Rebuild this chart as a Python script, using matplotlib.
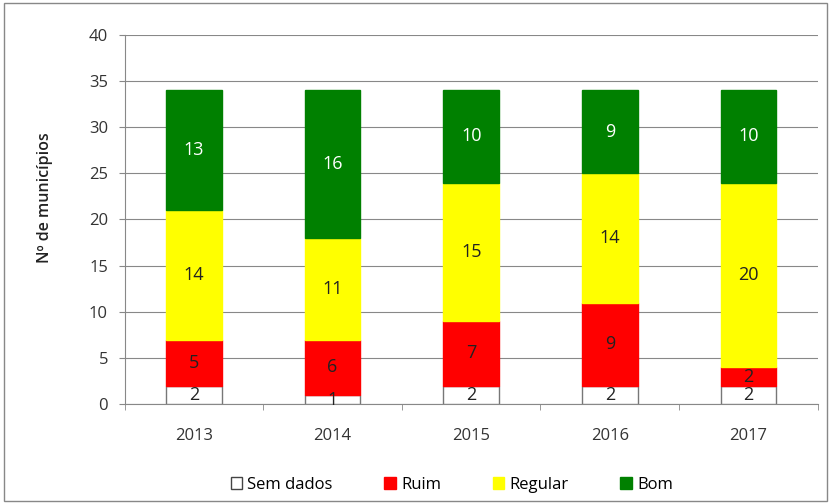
import matplotlib
matplotlib.use("Agg")
import matplotlib.pyplot as plt
import numpy as np
from matplotlib.patches import Rectangle

years = ["2013", "2014", "2015", "2016", "2017"]
sem_dados = [2, 1, 2, 2, 2]
ruim = [5, 6, 7, 9, 2]
regular = [14, 11, 15, 14, 20]
bom = [13, 16, 10, 9, 10]

plt.rcParams['font.family'] = ['Open Sans', 'DejaVu Sans']

fig = plt.figure(figsize=(8.31, 5.04), dpi=100)
ax = fig.add_axes([0.150, 0.198, 0.834, 0.733])

x = np.arange(len(years))
w = 0.4
series = [
    ("Sem dados", sem_dados, "#FFFFFF", "#222222"),
    ("Ruim", ruim, "#FF0000", "#222222"),
    ("Regular", regular, "#FFFF00", "#222222"),
    ("Bom", bom, "#008000", "#FFFFFF"),
]
bottom = np.zeros(len(years))
for name, vals, col, tcol in series:
    vals = np.array(vals, dtype=float)
    ec = "#777777" if col == "#FFFFFF" else col
    ax.bar(x, vals, w, bottom=bottom, color=col, edgecolor=ec, linewidth=1, label=name, zorder=3)
    for xi, b, v in zip(x, bottom, vals):
        ax.text(xi, b + v / 2, f"{int(v)}", ha="center", va="center", fontsize=13, color=tcol, zorder=4)
    bottom += vals

ax.set_xlim(-0.5, 4.5)
ax.set_ylim(0, 40)
ax.set_yticks(range(0, 41, 5))
ax.yaxis.grid(True, color="#888888", linewidth=0.8, zorder=0)
ax.set_axisbelow(True)
ax.set_xticks(x)
ax.set_xticklabels(years)
ax.set_xticks(np.arange(-0.5, 5, 1), minor=True)
ax.tick_params(axis="x", which="major", length=0, labelsize=12, pad=17, colors="#333333")
ax.tick_params(axis="x", which="minor", length=4, color="#888888")
ax.tick_params(axis="y", length=4, labelsize=12, color="#888888", labelcolor="#333333", pad=8)
for s in ["top", "right"]:
    ax.spines[s].set_visible(False)
ax.spines["left"].set_color("#888888")
ax.spines["bottom"].set_color("#888888")
ax.set_ylabel("Nº de municípios", fontsize=11.5, color="#222222", fontweight="semibold")
ax.yaxis.set_label_coords(-0.103, 0.56)

leg = ax.legend(loc="lower center", bbox_to_anchor=(0.472, -0.28), ncol=4, frameon=False,
                fontsize=12, handlelength=0.7, handleheight=0.7, handletextpad=0.3, columnspacing=3.1)
for h in leg.legend_handles:
    fc = h.get_facecolor()
    if fc[0] == 1 and fc[1] == 1 and fc[2] == 1:
        h.set_edgecolor("#444444")

fig.patches.append(Rectangle((0.005, 0.005), 0.99, 0.99, transform=fig.transFigure,
                             fill=False, edgecolor="#888888", linewidth=1))

fig.savefig("out.png", dpi=100)
